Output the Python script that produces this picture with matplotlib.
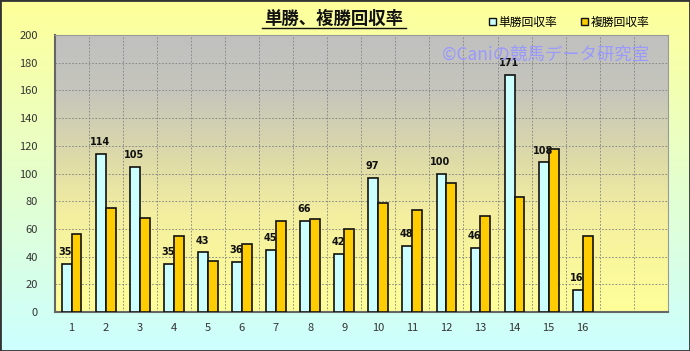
import matplotlib.pyplot as plt
import matplotlib.colors as mcolors
from matplotlib.patches import Patch
import numpy as np

plt.rcParams['font.family'] = ['Noto Sans CJK JP', 'DejaVu Sans']

# data
races = [str(i) for i in range(1, 17)] + ["", ""]
tansho = [35, 114, 105, 35, 43, 36, 45, 66, 42, 97, 48, 100, 46, 171, 108, 16]
fukusho = [56, 75, 68, 55, 37, 49, 66, 67, 60, 79, 74, 93, 69, 83, 118, 55]

fig = plt.figure(figsize=(6.9, 3.51), dpi=100)

# figure background gradient: yellow at top, cyan at bottom
bg = fig.add_axes([0, 0, 1, 1], zorder=-10)
cmap_bg = mcolors.LinearSegmentedColormap.from_list("bg", ["#ffff99", "#ccffff"])
bg.imshow(np.linspace(0, 1, 256).reshape(-1, 1), cmap=cmap_bg, aspect="auto",
          extent=[0, 1, 0, 1])
bg.set_xlim(0, 1)
bg.set_ylim(0, 1)
bg.set_xticks([])
bg.set_yticks([])
for s in bg.spines.values():
    s.set_color("#333333")
    s.set_linewidth(2)

ax = fig.add_axes([0.079, 0.111, 0.889, 0.789])
ax.patch.set_alpha(0)

n = len(races)
ax.set_xlim(0, n)
ax.set_ylim(0, 200)

# plot area gradient: gray at top, yellow at bottom
cmap_pa = mcolors.LinearSegmentedColormap.from_list(
    "pa", [(0, "#c0c0c0"), (0.2, "#c5c5bc"), (0.45, "#dedba8"),
           (0.65, "#f4efa0"), (1, "#ffff99")])
ax.imshow(np.linspace(0, 1, 256).reshape(-1, 1), cmap=cmap_pa, aspect="auto",
          extent=[0, n, 0, 200], zorder=0, vmin=0, vmax=1)

x = np.arange(len(tansho)) + 0.5
w = 0.29
ax.bar(x - w / 2, tansho, w, color="#ccffff", edgecolor="#111111", linewidth=1.2,
       zorder=3, label="単勝回収率")
ax.bar(x + w / 2, fukusho, w, color="#ffcc00", edgecolor="#111111", linewidth=1.2,
       zorder=3, label="複勝回収率")

for xi, v in zip(x, tansho):
    ax.text(xi - w / 2 - 0.03, v + 5, str(v), ha="center", va="bottom",
            fontsize=7, fontweight="bold", color="#111111", zorder=4,
            family="DejaVu Sans")

# grid
for k in range(1, n):
    ax.axvline(k, color="#808080", linestyle=(0, (2, 2)), linewidth=0.6, zorder=1)
for yv in range(20, 200, 20):
    ax.axhline(yv, color="#808080", linestyle=(0, (2, 2)), linewidth=0.6, zorder=1)

ax.set_xticks(np.arange(n) + 0.5)
ax.set_xticklabels(races)
ax.set_yticks(range(0, 201, 20))
ax.tick_params(length=0, labelsize=8, colors="#333333", pad=8)
ax.tick_params(axis="y", pad=12)
for side in ["top", "right"]:
    ax.spines[side].set_color("#999999")
for side in ["left", "bottom"]:
    ax.spines[side].set_color("#666666")
    ax.spines[side].set_linewidth(1.5)

# watermark
ax.text(0.97, 0.93, "©Caniの競馬データ研究室", transform=ax.transAxes, ha="right",
        va="center", fontsize=12.5, color="#9999ff", zorder=5)

# title
fig.text(0.484, 0.946, "単勝、複勝回収率", ha="center", va="center", fontsize=12.5,
         fontweight="bold", color="#111111")
fig.add_artist(plt.Line2D([0.38, 0.588], [0.92, 0.92], color="#111111", linewidth=1))

handles = [Patch(facecolor="#ccffff", edgecolor="#111111"),
           Patch(facecolor="#ffcc00", edgecolor="#111111")]
fig.legend(handles, ["単勝回収率", "複勝回収率"], loc="center", bbox_to_anchor=(0.825, 0.937),
           ncol=2, frameon=False, fontsize=8.5, handlelength=0.6, handleheight=0.6,
           handletextpad=0.2, columnspacing=2.0)

plt.savefig("out.png", dpi=100)
